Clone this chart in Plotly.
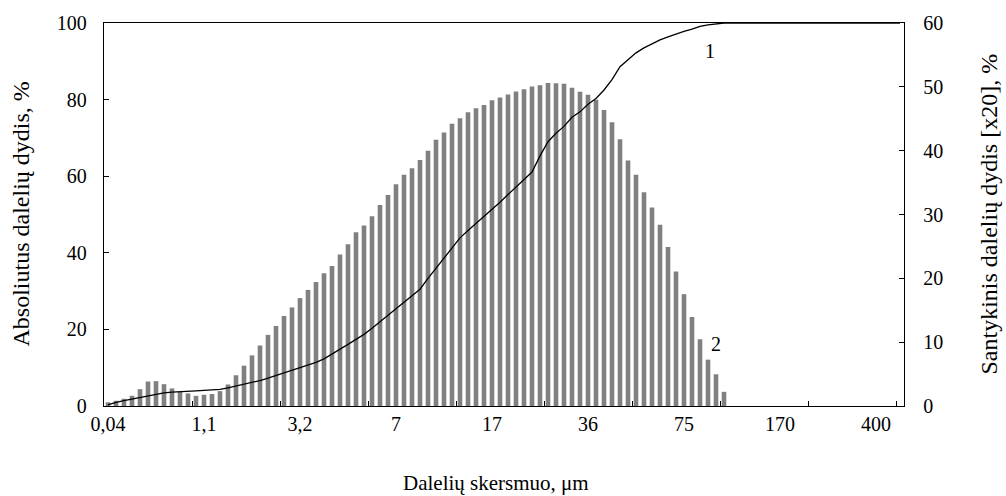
import plotly.graph_objects as go

# Particle size channels: 100 categories, labelled every 12th channel
n_channels = 100
size_labels = ["0,04", "1,1", "3,2", "7", "17", "36", "75", "170", "400"]
label_channels = [0, 12, 24, 36, 48, 60, 72, 84, 96]
tick_channels = [10.5, 21.5, 32.5, 43.5, 54.5, 65.5, 76.5, 87.5, 98.5]

# Relative particle size share [x20], % (bars, right axis)
relative_x20 = [
    0.58, 0.82, 1.13, 1.6, 2.64, 3.84, 3.89, 3.42, 2.75, 2.22,
    1.97, 1.6, 1.76, 1.87, 2.33, 3.37, 4.82, 6.32, 7.93, 9.48,
    11.14, 12.54, 14.1, 15.44, 16.9, 18.19, 19.43, 20.8, 21.92, 23.73,
    25.34, 27.2, 28.29, 29.74, 31.5, 33.06, 34.72, 36.22, 37.26, 38.55,
    40.0, 41.71, 42.85, 44.2, 45.08, 46.01, 46.63, 47.15, 47.88, 48.34,
    48.81, 49.28, 49.64, 50.05, 50.26, 50.62, 50.57, 50.47, 49.85, 49.22,
    48.76, 47.98, 46.37, 44.46, 41.77, 38.44, 36.22, 33.47, 31.09, 28.4,
    24.92, 21.09, 17.52, 13.94, 10.46, 7.26, 4.97, 2.22,
]

# Absolute (cumulative) particle size, % (line, left axis)
absolute_cum = [
    0.3, 0.95, 1.38, 1.81, 2.25, 2.68, 3.1, 3.45, 3.63, 3.8,
    3.89, 3.97, 4.06, 4.15, 4.32, 4.75, 5.18, 5.61, 6.04, 6.65,
    7.25, 7.94, 8.64, 9.33, 10.0, 10.7, 11.4, 12.3, 13.5, 14.8,
    16.1, 17.4, 18.7, 20.3, 22.0, 23.7, 25.4, 27.1, 28.8, 30.5,
    33.3, 36.0, 38.7, 41.4, 43.9, 45.8, 47.6, 49.5, 51.3, 53.2,
    55.2, 57.2, 59.1, 61.1, 65.3, 69.0, 71.2, 73.0, 75.4, 76.8,
    78.8, 80.3, 82.5, 85.2, 88.6, 90.4, 92.2, 93.5, 94.6, 95.6,
    96.4, 97.2, 97.8, 98.4, 99.1, 99.5, 99.8, 100, 100, 100,
    100, 100, 100, 100, 100, 100, 100, 100, 100, 100,
    100, 100, 100, 100, 100, 100, 100, 100, 100, 100,
]

channels = list(range(n_channels))
FONT = "Liberation Serif"

fig = go.Figure()
fig.add_trace(go.Bar(
    x=channels[:len(relative_x20)], y=relative_x20,
    marker=dict(color="#808080", line=dict(width=0)),
    yaxis="y", showlegend=False,
))
fig.add_trace(go.Scatter(
    x=channels, y=absolute_cum, mode="lines",
    line=dict(color="black", width=1.3),
    yaxis="y2", showlegend=False,
))

fig.update_layout(
    width=1006, height=496,
    margin=dict(l=104, r=102, t=20, b=90),
    paper_bgcolor="white", plot_bgcolor="white",
    bargap=0.42,
    font=dict(family=FONT, size=20, color="black"),
    xaxis=dict(
        range=[-0.5, n_channels - 0.5],
        tickmode="array", tickvals=label_channels, ticktext=size_labels,
        ticks="", showgrid=False, zeroline=False,
        showline=True, mirror=True, linecolor="black", linewidth=1.3,
        minor=dict(tickmode="array", tickvals=tick_channels, ticks="inside",
                   ticklen=5, tickwidth=1, tickcolor="black", showgrid=False),
        tickfont=dict(family=FONT, size=20, color="black"),
        ticklabelstandoff=0,
    ),
    yaxis=dict(
        side="right", range=[0, 60], dtick=10, tick0=0,
        ticks="inside", ticklen=5, tickwidth=1, tickcolor="black",
        showgrid=False, zeroline=False,
        showline=True, linecolor="black", linewidth=1.3,
        tickfont=dict(family=FONT, size=20, color="black"),
        ticklabelstandoff=14,
    ),
    yaxis2=dict(
        overlaying="y", side="left", range=[0, 100], dtick=20, tick0=0,
        ticks="inside", ticklen=5, tickwidth=1, tickcolor="black",
        showgrid=False, zeroline=False,
        showline=True, linecolor="black", linewidth=1.3,
        tickfont=dict(family=FONT, size=20, color="black"),
        ticklabelstandoff=12,
    ),
    annotations=[
        dict(text="Dalelių skersmuo, μm", xref="paper", yref="paper",
             x=0.49, y=-0.2, yanchor="middle", xanchor="center",
             showarrow=False, font=dict(family=FONT, size=21)),
        dict(text="Absoliutus dalelių dydis, %", xref="paper", yref="paper",
             x=-0.105, y=0.5, textangle=-90, xanchor="center", yanchor="middle",
             showarrow=False, font=dict(family=FONT, size=24)),
        dict(text="Santykinis dalelių dydis [x20], %", xref="paper", yref="paper",
             x=1.105, y=0.5, textangle=-90, xanchor="center", yanchor="middle",
             showarrow=False, font=dict(family=FONT, size=24)),
        dict(text="1", x=75.25, y=92.7, xref="x", yref="y2",
             showarrow=False, font=dict(family=FONT, size=20)),
        dict(text="2", x=76.0, y=16.3, xref="x", yref="y2",
             showarrow=False, font=dict(family=FONT, size=20)),
    ],
)

fig.write_html("out.html")
